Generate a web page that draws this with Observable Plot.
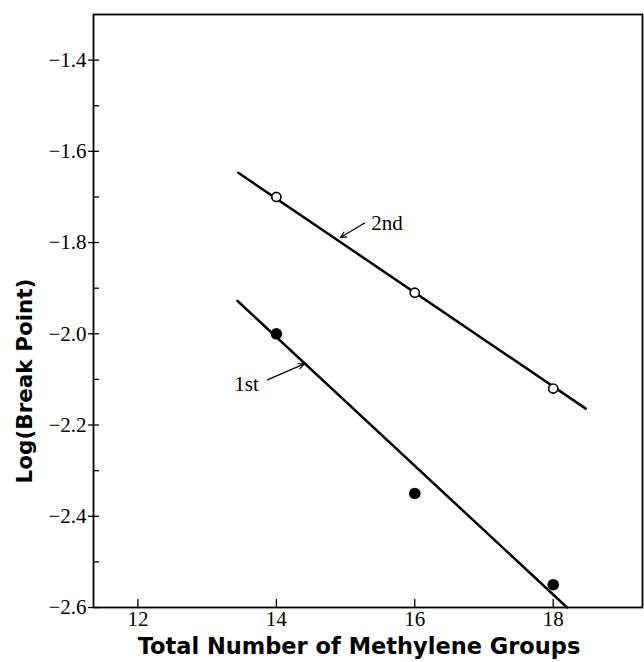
<!DOCTYPE html>
<html><head><meta charset="utf-8">
<script src="https://cdn.jsdelivr.net/npm/d3@7"></script>
<script src="https://cdn.jsdelivr.net/npm/@observablehq/plot@0.6"></script>
<style>html,body{margin:0;padding:0;background:#fff;}</style>
</head><body><div id="chart"></div>
<script>
// Data
const methylene = [14, 16, 18];
const firstBreak = [-2.00, -2.35, -2.55];   // filled circles
const secondBreak = [-1.70, -1.91, -2.12];  // open circles
const firstFitX = [13.44, 18.2];
const firstFitY = [-1.928, -2.6];
const secondFitX = [13.45, 18.47];
const secondFitY = [-1.647, -2.164];
const xTicks = [12, 14, 16, 18];
const yMajorTicks = [-2.6, -2.4, -2.2, -2.0, -1.8, -1.6, -1.4];
const yMinorTicks = [-2.5, -2.3, -2.1, -1.9, -1.7, -1.5];
const annotationLabels = ["1st", "2nd"];
const annotationTextX = [13.57, 15.6];
const annotationTextY = [-2.11, -1.757];
const arrowStartX = [13.87, 15.276];
const arrowStartY = [-2.101, -1.757];
const arrowEndX = [14.403, 14.925];
const arrowEndY = [-2.066, -1.789];
const xLabel = "Total Number of Methylene Groups";
const yLabel = "Log(Break Point)";

const points1 = methylene.map((x, i) => ({x, y: firstBreak[i]}));
const points2 = methylene.map((x, i) => ({x, y: secondBreak[i]}));
const fit1 = firstFitX.map((x, i) => ({x, y: firstFitY[i]}));
const fit2 = secondFitX.map((x, i) => ({x, y: secondFitY[i]}));
const notes = annotationLabels.map((t, i) => ({t, x: annotationTextX[i], y: annotationTextY[i]}));
const arrows = arrowStartX.map((x1, i) => ({x1, y1: arrowStartY[i], x2: arrowEndX[i], y2: arrowEndY[i]}));

const serif = "'Liberation Serif', 'Times New Roman', serif";
const sans = "'DejaVu Sans', sans-serif";

const chart = Plot.plot({
  width: 644,
  height: 662,
  marginLeft: 93,
  marginRight: 2,
  marginTop: 14,
  marginBottom: 55,
  style: {background: "white", color: "black"},
  x: {domain: [11.358, 19.29]},
  y: {domain: [-2.6, -1.3]},
  marks: [
    Plot.frame({stroke: "black", strokeWidth: 1.8}),
    Plot.axisY(yMajorTicks, {tickSize: 5, fill: null, label: null, strokeWidth: 1.3}),
    Plot.axisY([...yMajorTicks, ...yMinorTicks], {tickSize: -6, fill: null, label: null, strokeWidth: 1.3}),
    Plot.axisY(yMajorTicks, {tickSize: 0, tickPadding: 7, tickFormat: d3.format(".1f"), label: null}),
    Plot.axisX(xTicks, {tickSize: -8, fill: null, label: null, strokeWidth: 1.3}),
    Plot.axisX(xTicks, {tickSize: 0, tickPadding: 4, tickFormat: d => String(d), label: null}),
    Plot.line(fit1, {x: "x", y: "y", stroke: "black", strokeWidth: 2.5}),
    Plot.line(fit2, {x: "x", y: "y", stroke: "black", strokeWidth: 2.5}),
    Plot.dot(points1, {x: "x", y: "y", r: 5.8, fill: "black", stroke: "none"}),
    Plot.dot(points2, {x: "x", y: "y", r: 4.6, fill: "white", stroke: "black", strokeWidth: 1.6}),
    Plot.arrow(arrows, {x1: "x1", y1: "y1", x2: "x2", y2: "y2", stroke: "black", strokeWidth: 1.2, headLength: 8, headAngle: 50}),
    Plot.text(notes, {x: "x", y: "y", text: "t", fill: "black"}),
    Plot.text([xLabel], {text: d => d, frameAnchor: "bottom", lineAnchor: "middle", textAnchor: "middle", dy: 39, dx: -9, fill: "black"}),
    Plot.text([yLabel], {text: d => d, frameAnchor: "left", rotate: -90, lineAnchor: "middle", textAnchor: "middle", dx: -68, dy: 70, fill: "black"})
  ]
});
d3.select(chart).selectAll("text").each(function() {
  const t = this.textContent;
  const s = d3.select(this);
  if (t === xLabel) {
    s.style("font-family", sans).style("font-size", "22.5px").style("font-weight", "bold");
  } else if (t === yLabel) {
    s.style("font-family", sans).style("font-size", "21.5px").style("font-weight", "bold");
  } else {
    s.style("font-family", serif).style("font-size", "21px");
  }
});
document.getElementById("chart").appendChild(chart);
</script>
</body></html>
